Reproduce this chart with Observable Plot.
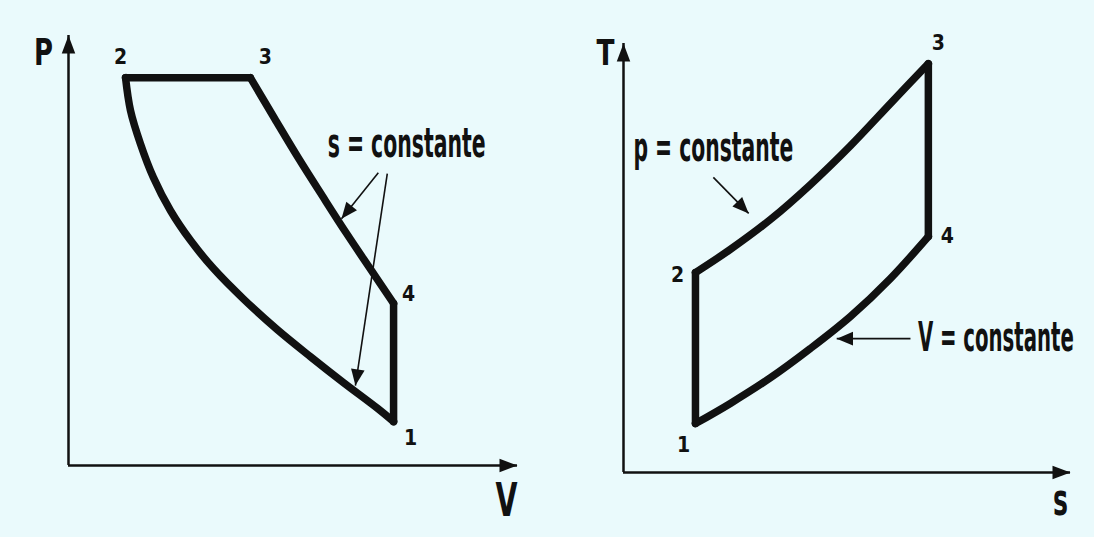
<!DOCTYPE html>
<html>
<head>
<meta charset="utf-8">
<script src="https://cdn.jsdelivr.net/npm/d3@7"></script>
<script src="https://cdn.jsdelivr.net/npm/@observablehq/plot@0.6"></script>
<style>
  html, body { margin: 0; padding: 0; background: #ffffff; }
  #frame { position: relative; width: 1094px; height: 537px; background: #eafafc; overflow: hidden; }
  #left, #right { position: absolute; top: 0; }
  #left { left: 0; }
  #right { left: 547px; }
</style>
</head>
<body>
<div id="frame"><div id="left"></div><div id="right"></div></div>
<script>
// ---------------- DATA (arbitrary units) ----------------
// P–V diagram
const pvStateNames = ["1", "2", "3", "4"];
const pvStateV = [7.24, 1.27, 4.05, 7.24];
const pvStateP = [1.02, 9.02, 9.02, 3.77];
// isentropic compression 1 -> 2
const pvCompV = [7.24, 6.88, 6.12, 5.39, 4.65, 3.90, 3.23, 2.72, 2.27, 1.89, 1.60, 1.38, 1.27];
const pvCompP = [1.02, 1.33, 1.93, 2.53, 3.16, 3.87, 4.58, 5.23, 5.93, 6.70, 7.49, 8.26, 9.02];
// isentropic expansion 3 -> 4
const pvExpV = [4.05, 4.59, 5.12, 5.66, 6.19, 6.73, 7.24];
const pvExpP = [9.02, 8.07, 7.15, 6.26, 5.40, 4.56, 3.77];
const pvNote = "s = constante";
const pvNoteAt = [7.53, 7.47];
const pvArrowFromV = [6.90, 7.10];
const pvArrowFromP = [6.81, 6.79];
const pvArrowToV = [6.08, 6.39];
const pvArrowToP = [5.74, 1.86];
const pvAxisNames = ["V", "P"];

// T–s diagram
const tsStateNames = ["1", "2", "3", "4"];
const tsStateS = [1.61, 1.61, 6.82, 6.82];
const tsStateT = [1.14, 4.66, 9.53, 5.50];
// constant-pressure heat addition 2 -> 3
const tsHeatS = [1.61, 2.39, 3.29, 4.18, 5.08, 5.97, 6.82];
const tsHeatT = [4.66, 5.20, 5.90, 6.71, 7.62, 8.60, 9.53];
// constant-volume heat rejection 1 -> 4
const tsRejS = [1.61, 2.39, 3.29, 4.18, 5.08, 5.97, 6.82];
const tsRejT = [1.14, 1.61, 2.21, 2.89, 3.64, 4.52, 5.50];
const tsNotes = ["p = constante", "V = constante"];
const tsNoteS = [2.01, 8.33];
const tsNoteT = [7.55, 3.12];
const tsArrowFromS = [2.01, 6.42];
const tsArrowFromT = [6.88, 3.12];
const tsArrowToS = [2.80, 4.77];
const tsArrowToT = [6.04, 3.12];
const tsAxisNames = ["s", "T"];

// ---------------- STYLE ----------------
const W = 547, H = 537;
const ink = "#111111";
const font = '"Liberation Sans Narrow", "DejaVu Sans Condensed", "DejaVu Sans", Roboto, sans-serif';
const left = { xRange: [68, 517], yRange: [465, 35] };
const right = { xRange: [623 - 547, 1070 - 547], yRange: [472, 43] };
const pvStateOffsets = [[17, 17], [-5, -20], [15, -20], [15, -9]];
const tsStateOffsets = [[-12, 22], [-18, 3], [10, -20], [19, 0]];
const pvAxisLabel = { x: { dx: -11, dy: 36, size: 46 }, y: { dx: -25, dy: 17, size: 38 } };
const tsAxisLabel = { x: { dx: -10, dy: 28, size: 44 }, y: { dx: -18, dy: 10, size: 36 } };
const noteSize = 40;
// horizontal extent (px) each text is squeezed to, imitating the condensed lettering
const textWidths = { "s = constante": 158, "p = constante": 160, "V = constante": 156, "P": 19, "V": 22, "T": 18, "s": 15 };

// arrowhead symbols: tip at origin pointing up
function makeHead(kL, kW) {
  return {
    draw(context, size) {
      const r = Math.sqrt(size / Math.PI);
      context.moveTo(0, 0);
      context.lineTo(-kW * r, kL * r);
      context.lineTo(kW * r, kL * r);
      context.closePath();
    }
  };
}
const axisHead = makeHead(2.4, 0.9);
const noteHead = makeHead(2.5, 1.05);

function zip(xs, ys) { return xs.map((x, i) => ({ x, y: ys[i] })); }

function angleOf(x1, y1, x2, y2, cfg) {
  const kx = (cfg.xRange[1] - cfg.xRange[0]) / 10;
  const ky = (cfg.yRange[0] - cfg.yRange[1]) / 10;
  const dx = (x2 - x1) * kx, dy = -(y2 - y1) * ky;
  return Math.atan2(dx, -dy) * 180 / Math.PI;
}

function diagram(cfg, d) {
  const states = d.stateX.map((x, i) => ({ x, y: d.stateY[i], name: d.stateNames[i] }));
  const arrows = d.fromX.map((x1, i) => ({
    x1, y1: d.fromY[i], x2: d.toX[i], y2: d.toY[i],
    angle: angleOf(x1, d.fromY[i], d.toX[i], d.toY[i], cfg)
  }));
  const notes = d.notes.map((t, i) => ({ t, x: d.noteX[i], y: d.noteY[i] }));
  const marks = [
    // axes
    Plot.ruleY([0], { x1: 0, x2: 10, stroke: ink, strokeWidth: 2.5 }),
    Plot.ruleX([0], { y1: 0, y2: 10, stroke: ink, strokeWidth: 2.5 }),
    Plot.dot([{ x: 10, y: 0, a: 90 }, { x: 0, y: 10, a: 0 }],
      { x: "x", y: "y", rotate: "a", symbol: axisHead, r: 7.5, fill: ink }),
    // cycle: curved legs
    ...d.curves.map(c => Plot.line(c, { x: "x", y: "y", curve: "catmull-rom", stroke: ink,
      strokeWidth: 7.5, strokeLinecap: "round", strokeLinejoin: "round" })),
    // cycle: straight legs
    ...d.straight.map(([a, b]) => Plot.line([states[a], states[b]], { x: "x", y: "y", stroke: ink,
      strokeWidth: 7.5, strokeLinecap: "round" })),
    // annotation arrows
    Plot.link(arrows, { x1: "x1", y1: "y1", x2: "x2", y2: "y2", stroke: ink, strokeWidth: 1.6 }),
    Plot.dot(arrows, { x: "x2", y: "y2", rotate: "angle", symbol: noteHead, r: 6.5, fill: ink }),
    // notes
    Plot.text(notes, { x: "x", y: "y", text: "t", fontSize: noteSize, fontWeight: "bold",
      fontFamily: font, fill: ink }),
    // axis names
    Plot.text([d.axisNames[0]], { x: 10, y: 0, text: t => t, dx: d.axisLabel.x.dx, dy: d.axisLabel.x.dy,
      fontSize: d.axisLabel.x.size, fontWeight: "bold", fontFamily: font, fill: ink }),
    Plot.text([d.axisNames[1]], { x: 0, y: 10, text: t => t, dx: d.axisLabel.y.dx, dy: d.axisLabel.y.dy,
      fontSize: d.axisLabel.y.size, fontWeight: "bold", fontFamily: font, fill: ink }),
    // state numbers
    ...states.map((s, i) => Plot.text([s], { x: "x", y: "y", text: "name",
      dx: d.offsets[i][0], dy: d.offsets[i][1], fontSize: 21, fontWeight: "bold",
      fontFamily: font, fill: ink }))
  ];
  return Plot.plot({
    width: W, height: H,
    x: { type: "linear", domain: [0, 10], range: cfg.xRange, axis: null },
    y: { type: "linear", domain: [0, 10], range: cfg.yRange, axis: null },
    style: { background: "transparent", overflow: "visible" },
    marks
  });
}

// squeeze texts horizontally about their own centre (condensed lettering)
function condense(svg) {
  svg.querySelectorAll("text").forEach(t => {
    const w = textWidths[t.textContent.trim()];
    if (!w) return;
    const b = t.getBBox();
    if (!b.width) return;
    const s = w / b.width;
    const cx = b.x + b.width / 2;
    const prev = t.getAttribute("transform") || "";
    t.setAttribute("transform", `${prev} translate(${cx},0) scale(${s},1) translate(${-cx},0)`.trim());
  });
}

const pvDef = {
  stateNames: pvStateNames, stateX: pvStateV, stateY: pvStateP, offsets: pvStateOffsets,
  curves: [zip(pvCompV, pvCompP), zip(pvExpV, pvExpP)],
  straight: [[1, 2], [3, 0]],
  fromX: pvArrowFromV, fromY: pvArrowFromP, toX: pvArrowToV, toY: pvArrowToP,
  notes: [pvNote], noteX: [pvNoteAt[0]], noteY: [pvNoteAt[1]],
  axisNames: pvAxisNames, axisLabel: pvAxisLabel
};
const tsDef = {
  stateNames: tsStateNames, stateX: tsStateS, stateY: tsStateT, offsets: tsStateOffsets,
  curves: [zip(tsHeatS, tsHeatT), zip(tsRejS, tsRejT)],
  straight: [[0, 1], [2, 3]],
  fromX: tsArrowFromS, fromY: tsArrowFromT, toX: tsArrowToS, toY: tsArrowToT,
  notes: tsNotes, noteX: tsNoteS, noteY: tsNoteT,
  axisNames: tsAxisNames, axisLabel: tsAxisLabel
};

const svgL = diagram(left, pvDef);
document.getElementById("left").appendChild(svgL);
condense(svgL);
const svgR = diagram(right, tsDef);
document.getElementById("right").appendChild(svgR);
condense(svgR);
</script>
</body>
</html>
